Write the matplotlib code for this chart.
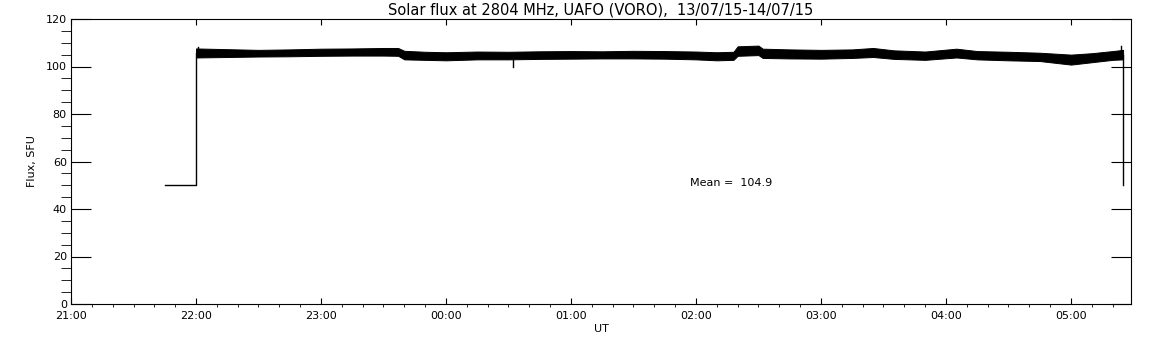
import matplotlib
matplotlib.use("Agg")
import matplotlib.pyplot as plt
from matplotlib.ticker import MultipleLocator

# data, times in UT (21:00 on 13/07 is the origin)
lead_t = ["21:45", "22:00", "22:00"]
lead_v = [50, 50, 105.5]
tail_t = ["05:25", "05:25"]
tail_v = [105.0, 50.0]

band_t = ["22:00", "22:15", "22:30", "22:45", "23:00", "23:15", "23:30", "23:37",
          "23:40", "23:50", "00:00", "00:15", "00:30", "00:45", "01:00", "01:15",
          "01:30", "01:45", "02:00", "02:10", "02:18", "02:20", "02:30", "02:32",
          "02:45", "03:00", "03:15", "03:25", "03:35", "03:50", "04:05", "04:15",
          "04:30", "04:45", "05:00", "05:10", "05:20", "05:25"]
band_hi = [107.6, 107.3, 107.0, 107.2, 107.5, 107.6, 107.8, 107.8,
           106.6, 106.2, 106.0, 106.3, 106.2, 106.4, 106.5, 106.4,
           106.6, 106.5, 106.3, 106.0, 106.2, 108.5, 108.8, 107.5,
           107.2, 107.0, 107.2, 107.8, 106.8, 106.3, 107.5, 106.5,
           106.2, 105.8, 105.0, 105.6, 106.5, 107.0]
band_lo = [103.8, 104.0, 104.2, 104.3, 104.5, 104.6, 104.6, 104.5,
           103.0, 102.8, 102.6, 103.0, 103.0, 103.2, 103.3, 103.4,
           103.4, 103.3, 103.0, 102.6, 102.8, 104.5, 104.8, 103.6,
           103.4, 103.3, 103.6, 104.0, 103.2, 102.8, 103.8, 103.0,
           102.6, 102.3, 100.8, 101.8, 102.8, 103.0]

spike_t = ["00:32", "05:24", "22:01"]
spike_lo = [103.0, 105.0, 105.0]
spike_hi = [100.0, 108.8, 108.2]

hour_labels = ["21:00", "22:00", "23:00", "00:00", "01:00", "02:00", "03:00", "04:00", "05:00"]
mean_flux = 104.9


def hrs(s):
    h, m = s.split(":")
    h = int(h)
    if h < 12:
        h += 24
    return h - 21 + int(m) / 60.0


fig = plt.figure(figsize=(11.52, 3.45), dpi=100)
ax = fig.add_axes([71 / 1152, 41 / 345, 1060 / 1152, 285 / 345])
plt.rcParams["font.family"] = "DejaVu Sans"

ax.fill_between([hrs(t) for t in band_t], band_lo, band_hi, color="black", lw=0.7)
ax.plot([hrs(t) for t in lead_t], lead_v, color="black", lw=1.0)
ax.plot([hrs(t) for t in tail_t], tail_v, color="black", lw=1.0)
for t, a, b in zip(spike_t, spike_lo, spike_hi):
    ax.plot([hrs(t), hrs(t)], [a, b], color="black", lw=1.0)

ax.set_xlim(0, 1060 / 125)
ax.set_ylim(0, 120)
ax.set_xticks(range(len(hour_labels)))
ax.set_xticklabels(hour_labels)
ax.xaxis.set_minor_locator(MultipleLocator(1 / 6))
ax.yaxis.set_major_locator(MultipleLocator(20))
ax.yaxis.set_minor_locator(MultipleLocator(5))

ax.tick_params(direction="in", top=True, right=True, labelsize=8, width=0.8)
ax.tick_params(axis="x", which="major", length=4, pad=5)
ax.tick_params(axis="x", which="minor", length=2.5)
ax.tick_params(axis="y", which="major", length=14.4, pad=3)
ax.tick_params(axis="y", which="minor", length=7.2)
for sp in ax.spines.values():
    sp.set_linewidth(0.8)

ax.set_title("Solar flux at 2804 MHz, UAFO (VORO),  13/07/15-14/07/15", fontsize=10.5, pad=3)
ax.set_xlabel("UT", fontsize=8, labelpad=2)
ax.set_ylabel("Flux, SFU", fontsize=8, labelpad=6)
ax.text(4.95, 51, "Mean =  %.1f" % mean_flux, fontsize=8, va="center", ha="left")

fig.savefig("out.png", dpi=100)
